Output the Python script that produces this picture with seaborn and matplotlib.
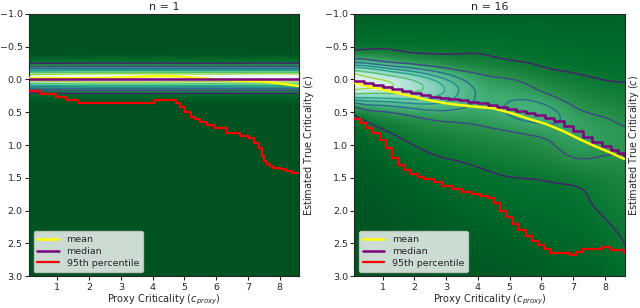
import matplotlib
matplotlib.use('Agg')
import matplotlib.pyplot as plt
import matplotlib.tri as mtri
from matplotlib import colors as mcolors
import numpy as np
import seaborn as sns

# ---------------- n = 1 ----------------
# density band: profile across true criticality, strength along proxy
band_proxy = [0.1, 1.1, 2.1, 3.1, 4.1, 5.1, 6.1, 7.1, 8.1, 9.1]
band_true = [-0.40, -0.35, -0.30, -0.25, -0.20, -0.15, -0.10, -0.05, 0.00,
             0.05, 0.10, 0.15, 0.20, 0.25, 0.30, 0.35, 0.40]
band_profile = [0.02, 0.035, 0.06, 0.10, 0.20, 0.40, 0.72, 0.95, 0.93,
                0.75, 0.48, 0.25, 0.12, 0.07, 0.045, 0.03, 0.02]
band_strength = [0.92, 0.96, 1.0, 1.0, 1.0, 0.98, 0.97, 1.0, 1.0, 0.96]

n1_mean_x = [0.1, 1.0, 2.0, 3.0, 3.5, 4.0, 4.5, 5.0, 5.5, 6.0, 6.5, 7.0, 7.5, 8.0, 8.6]
n1_mean_y = [-0.02, -0.02, -0.02, -0.03, -0.04, -0.05, -0.05, -0.04, -0.02,
             0.0, 0.01, 0.02, 0.03, 0.06, 0.10]
n1_median_x = [0.1, 8.6]
n1_median_y = [0.0, 0.0]
n1_p95_x = [0.1, 0.47, 0.95, 1.31, 1.65, 4.09, 4.75, 4.87, 5.03, 5.2, 5.35, 5.5,
            5.72, 5.98, 6.35, 6.76, 7.03, 7.18, 7.34, 7.45, 7.5, 7.6, 7.7, 7.8,
            8.0, 8.2, 8.4, 8.65]
n1_p95_y = [0.17, 0.22, 0.27, 0.31, 0.36, 0.31, 0.36, 0.42, 0.50, 0.57, 0.61, 0.65,
            0.70, 0.74, 0.81, 0.86, 0.89, 0.97, 1.05, 1.17, 1.24, 1.29, 1.32, 1.35,
            1.37, 1.40, 1.43, 1.43]

# ---------------- n = 16 ----------------
grid_proxy = [0.1, 1.1, 2.1, 3.1, 4.1, 5.1, 6.1, 7.1, 8.1, 9.1]
grid_true = [-1.0, -0.8, -0.6, -0.4, -0.2, 0.0, 0.2, 0.4, 0.6, 0.8, 1.0,
             1.2, 1.4, 1.6, 1.8, 2.0, 2.2, 2.4, 2.6, 2.8, 3.0]
# one list per proxy column, values down the true-criticality rows
n16_density_by_proxy = [
    [0.04, 0.06, 0.07, 0.12, 0.45, 0.95, 0.70, 0.22, 0.08, 0.06, 0.05, 0.04, 0.035, 0.03, 0.03, 0.025, 0.025, 0.02, 0.02, 0.02, 0.02],
    [0.04, 0.06, 0.08, 0.11, 0.33, 0.78, 0.68, 0.30, 0.15, 0.095, 0.07, 0.055, 0.045, 0.04, 0.035, 0.03, 0.03, 0.025, 0.025, 0.02, 0.02],
    [0.04, 0.06, 0.08, 0.10, 0.24, 0.60, 0.63, 0.36, 0.19, 0.14, 0.105, 0.08, 0.065, 0.055, 0.045, 0.04, 0.035, 0.03, 0.03, 0.025, 0.025],
    [0.045, 0.06, 0.075, 0.098, 0.17, 0.38, 0.46, 0.35, 0.22, 0.16, 0.13, 0.102, 0.08, 0.065, 0.055, 0.05, 0.045, 0.04, 0.035, 0.03, 0.03],
    [0.045, 0.06, 0.075, 0.098, 0.15, 0.23, 0.28, 0.28, 0.23, 0.18, 0.15, 0.12, 0.095, 0.08, 0.07, 0.06, 0.05, 0.045, 0.04, 0.035, 0.03],
    [0.045, 0.06, 0.075, 0.092, 0.12, 0.20, 0.27, 0.315, 0.29, 0.20, 0.165, 0.135, 0.11, 0.09, 0.078, 0.068, 0.06, 0.052, 0.045, 0.04, 0.035],
    [0.05, 0.06, 0.07, 0.082, 0.098, 0.14, 0.20, 0.31, 0.33, 0.24, 0.18, 0.15, 0.12, 0.095, 0.085, 0.075, 0.068, 0.06, 0.055, 0.05, 0.045],
    [0.05, 0.055, 0.065, 0.075, 0.088, 0.115, 0.15, 0.19, 0.25, 0.27, 0.25, 0.20, 0.15, 0.105, 0.09, 0.082, 0.075, 0.068, 0.062, 0.056, 0.05],
    [0.05, 0.055, 0.062, 0.07, 0.08, 0.098, 0.125, 0.16, 0.20, 0.225, 0.225, 0.19, 0.16, 0.14, 0.125, 0.112, 0.098, 0.085, 0.072, 0.062, 0.055],
    [0.055, 0.06, 0.065, 0.072, 0.08, 0.095, 0.115, 0.14, 0.17, 0.20, 0.215, 0.20, 0.18, 0.165, 0.155, 0.145, 0.14, 0.13, 0.125, 0.115, 0.105],
]

n16_mean_x = [0.1, 0.6, 1.15, 1.7, 2.2, 2.7, 3.25, 3.8, 4.5, 5.1, 5.6, 6.15, 6.7,
              7.2, 7.7, 8.2, 8.6]
n16_mean_y = [0.05, 0.11, 0.17, 0.23, 0.29, 0.34, 0.38, 0.41, 0.44, 0.52, 0.60,
              0.68, 0.79, 0.91, 1.02, 1.12, 1.21]
n16_median_x = [0.1, 0.4, 0.7, 1.0, 1.3, 1.6, 1.9, 2.2, 2.5, 2.8, 3.1, 3.4, 3.7,
                4.0, 4.3, 4.6, 4.9, 5.2, 5.5, 5.8, 6.1, 6.4, 6.7, 7.0, 7.3, 7.6,
                7.9, 8.2, 8.4, 8.6]
n16_median_y = [0.02, 0.05, 0.08, 0.12, 0.15, 0.17, 0.20, 0.23, 0.26, 0.28, 0.30,
                0.32, 0.34, 0.36, 0.39, 0.42, 0.45, 0.48, 0.51, 0.54, 0.58, 0.64,
                0.71, 0.78, 0.87, 0.95, 1.02, 1.08, 1.12, 1.15]
n16_p95_x = [0.1, 0.3, 0.5, 0.7, 0.9, 1.1, 1.3, 1.5, 1.7, 1.9, 2.1, 2.3, 2.6, 2.9,
             3.2, 3.5, 3.8, 4.1, 4.3, 4.5, 4.7, 4.9, 5.1, 5.3, 5.5, 5.7, 5.9, 6.1,
             6.3, 6.9, 7.1, 7.3, 7.9, 8.2, 8.6]
n16_p95_y = [0.60, 0.66, 0.74, 0.82, 0.92, 1.05, 1.20, 1.30, 1.38, 1.44, 1.48, 1.52,
             1.57, 1.62, 1.67, 1.71, 1.75, 1.77, 1.80, 1.88, 2.00, 2.10, 2.20, 2.30,
             2.39, 2.46, 2.52, 2.58, 2.64, 2.68, 2.63, 2.58, 2.56, 2.60, 2.64]

contour_levels = [0.1, 0.2, 0.3, 0.4, 0.5, 0.65, 0.8]

sns.set_theme(style='ticks', rc={
    'axes.linewidth': 0.8,
    'xtick.labelsize': 6.8, 'ytick.labelsize': 6.8,
    'axes.labelsize': 7, 'axes.titlesize': 8,
    'legend.fontsize': 6.8,
    'xtick.major.size': 3, 'ytick.major.size': 3,
    'xtick.major.width': 0.8, 'ytick.major.width': 0.8,
})
plt.rcParams['font.family'] = ['DejaVu Sans']

cmap = plt.get_cmap('BuGn_r')
norm = mcolors.PowerNorm(0.8, vmin=0, vmax=1)
level_colors = plt.get_cmap('viridis')(np.linspace(0.08, 0.85, len(contour_levels)))


def grid_triangulation(xs, ys):
    X, Y = np.meshgrid(xs, ys)
    nx, ny = len(xs), len(ys)
    tris = []
    for j in range(ny - 1):
        for i in range(nx - 1):
            a = j * nx + i
            tris.append([a, a + 1, a + nx + 1])
            tris.append([a, a + nx + 1, a + nx])
    return mtri.Triangulation(X.ravel(), Y.ravel(), tris)


fig, axes = plt.subplots(1, 2, figsize=(6.4, 3.08), dpi=100)
fig.subplots_adjust(left=0.045, right=0.976, bottom=0.103, top=0.955, wspace=0.203)

panels = [
    dict(title='n = 1', mean=(n1_mean_x, n1_mean_y), median=(n1_median_x, n1_median_y),
         p95=(n1_p95_x, n1_p95_y)),
    dict(title='n = 16', mean=(n16_mean_x, n16_mean_y), median=(n16_median_x, n16_median_y),
         p95=(n16_p95_x, n16_p95_y)),
]

for i, (ax, p) in enumerate(zip(axes, panels)):
    ax.set_facecolor(cmap(norm(0.02)))
    if i == 0:
        Z = np.outer(band_profile, band_strength)
        xs, ys = band_proxy, band_true
    else:
        Z = np.array(n16_density_by_proxy).T
        xs, ys = grid_proxy, grid_true
    dy = (ys[1] - ys[0]) / 2
    dx = (xs[1] - xs[0]) / 2
    ax.imshow(Z, extent=(xs[0] - dx, xs[-1] + dx, ys[-1] + dy, ys[0] - dy),
              origin='upper', aspect='auto', interpolation='bicubic',
              cmap=cmap, norm=norm, zorder=0)
    # smooth contour lines through matplotlib's own cubic refiner
    tri = grid_triangulation(xs, ys)
    tri_f, z_f = mtri.UniformTriRefiner(tri).refine_field(Z.ravel(), subdiv=3)
    ax.tricontour(tri_f, z_f, levels=contour_levels, colors=level_colors,
                  linewidths=1.0, zorder=1)

    sns.lineplot(x=p['mean'][0], y=p['mean'][1], ax=ax, color='yellow',
                 lw=1.8, label='mean', zorder=3)
    sns.lineplot(x=p['median'][0], y=p['median'][1], ax=ax, color='purple',
                 lw=1.8, label='median', drawstyle='steps-post', zorder=3)
    sns.lineplot(x=p['p95'][0], y=p['p95'][1], ax=ax, color='red',
                 lw=1.6, label='95th percentile', drawstyle='steps-post', zorder=3)

    ax.set_xlim(0.1, 8.62)
    ax.set_ylim(3.0, -1.0)
    ax.set_xticks(range(1, 9))
    ax.set_yticks([-1.0, -0.5, 0.0, 0.5, 1.0, 1.5, 2.0, 2.5, 3.0])
    ax.set_title(p['title'], pad=3)
    ax.set_xlabel('Proxy Criticality ($c_{proxy}$)', labelpad=1)
    ax.set_ylabel('Estimated True Criticality ($c$)', labelpad=2)
    ax.yaxis.set_label_position('right')
    ax.tick_params(pad=1.5)
    ax.legend(loc='lower left', framealpha=0.8, handlelength=2.3,
              borderpad=0.4, labelspacing=0.3, fancybox=True)

fig.savefig('out.png', dpi=100)
